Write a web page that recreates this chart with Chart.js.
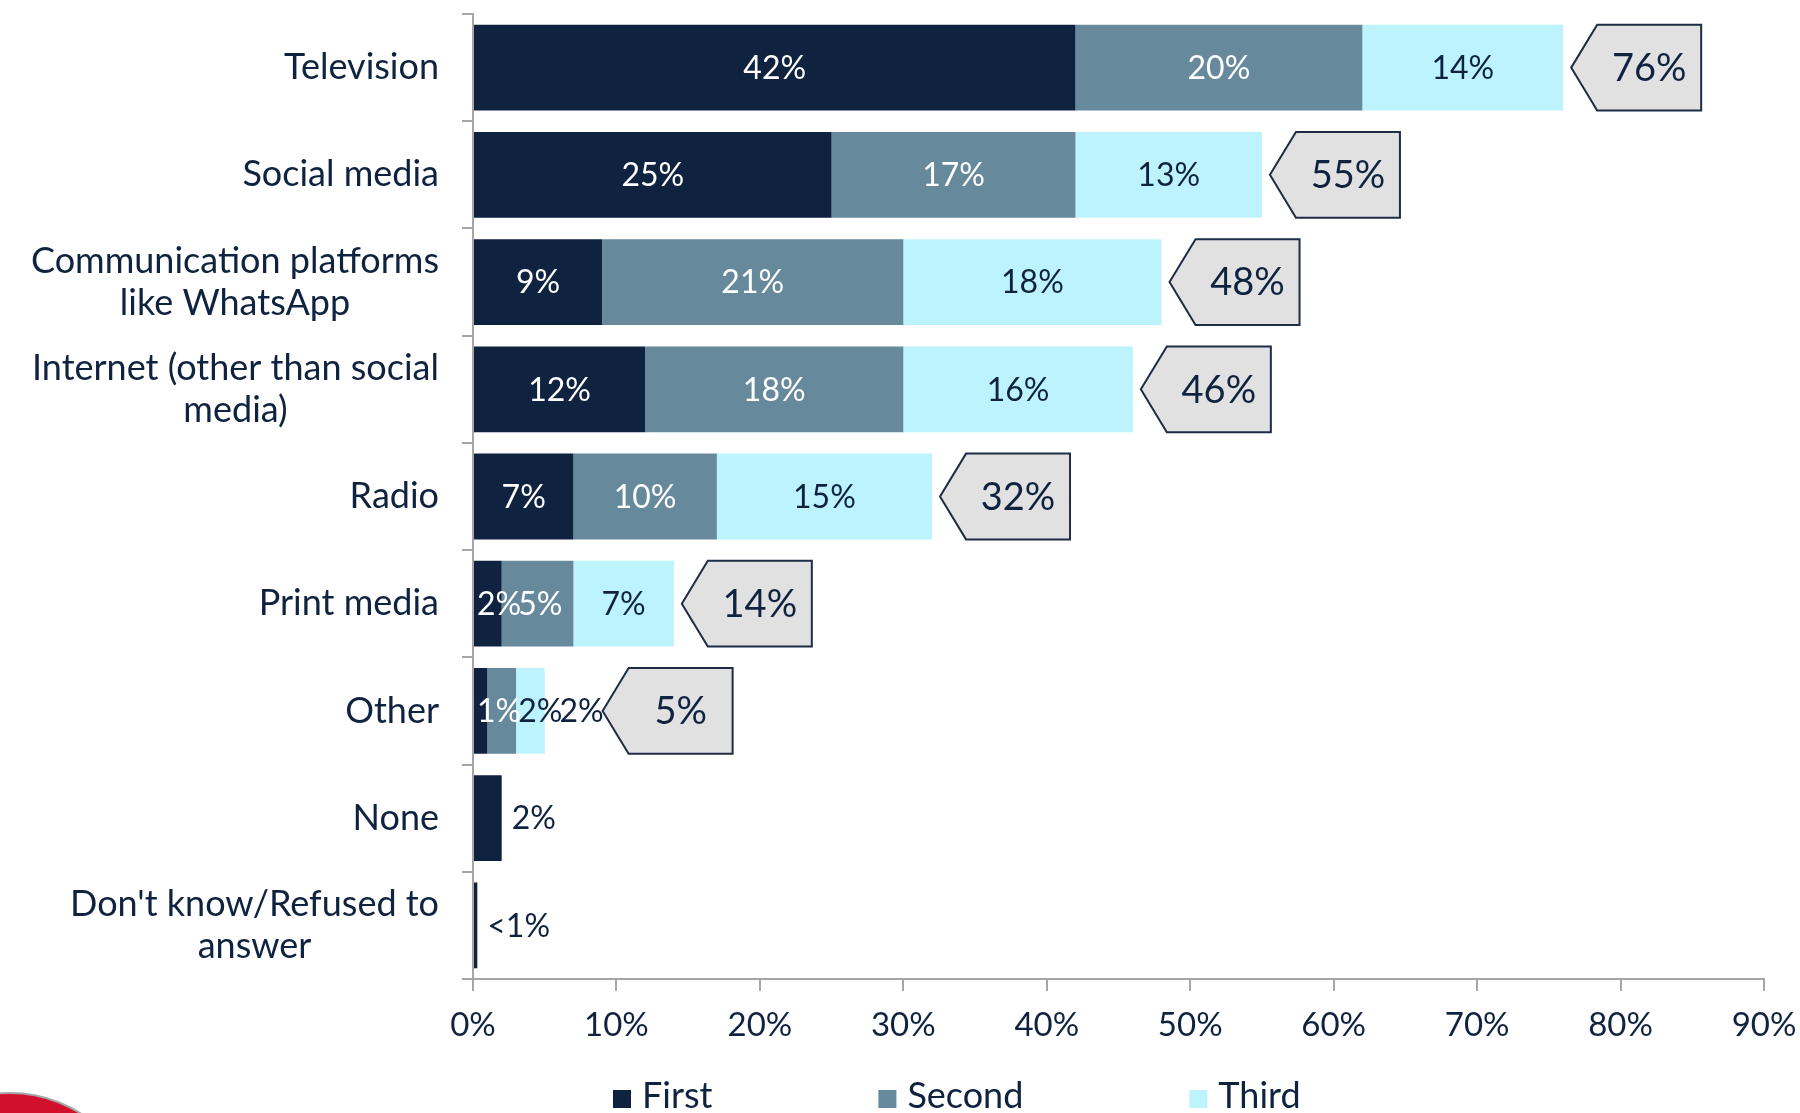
<!DOCTYPE html>
<html>
<head>
<meta charset="utf-8">
<script src="https://cdn.jsdelivr.net/npm/chart.js@4.4.1/dist/chart.umd.min.js"></script>
<style>
  html, body { margin: 0; padding: 0; background: #ffffff; }
  #wrap { width: 1800px; height: 1113px; position: relative; }
</style>
</head>
<body>
<div id="wrap"><canvas id="chart" width="1800" height="1113"></canvas></div>
<script>
// ---- data ----
const categories = [
  'Television',
  'Social media',
  ['Communication platforms', 'like WhatsApp'],
  ['Internet (other than social', 'media)'],
  'Radio',
  'Print media',
  'Other',
  'None',
  ["Don't know/Refused to", 'answer']
];
const seriesNames = ['First', 'Second', 'Third'];
const firstValues  = [42, 25,  9, 12,  7, 2, 1, 2, 0.3];
const secondValues = [20, 17, 21, 18, 10, 5, 2, null, null];
const thirdValues  = [14, 13, 18, 16, 15, 7, 2, null, null];
const totalValues  = [76, 55, 48, 46, 32, 14, 5, null, null];
const xTickValues  = [0, 10, 20, 30, 40, 50, 60, 70, 80, 90];

// ---- styling ----
const NAVY = '#0f2340';
const STEEL = '#66899c';
const CYAN = '#bdf3fc';
const AXIS_GREY = '#a6a6a6';
const FONT = 'Lato, "Open Sans", sans-serif';
const seriesColors = [NAVY, STEEL, CYAN];

function pct(v) {
  return v < 1 ? '<1%' : Math.round(v) + '%';
}

// Category names: each block is right-aligned against the axis, its lines centred within the block.
const categoryLabels = {
  id: 'categoryLabels',
  afterDraw(chart) {
    const ctx = chart.ctx;
    const ys = chart.scales.y;
    const blockRight = ys.right - 11 - 23;
    const lineGap = 42;
    ctx.save();
    ctx.font = '36px ' + FONT;
    ctx.fillStyle = NAVY;
    ctx.textAlign = 'center';
    ctx.textBaseline = 'middle';
    categories.forEach((label, i) => {
      const lines = Array.isArray(label) ? label : [label];
      const widest = Math.max(...lines.map(l => ctx.measureText(l).width));
      const cx = blockRight - widest / 2;
      const cy = ys.getPixelForTick(i);
      const y0 = cy - (lines.length - 1) * lineGap / 2;
      lines.forEach((l, j) => ctx.fillText(l, cx, y0 + j * lineGap));
    });
    ctx.restore();
  }
};

// Segment labels inside/next to each bar piece, plus the pointed total tags.
const barLabels = {
  id: 'barLabels',
  afterDatasetsDraw(chart) {
    const ctx = chart.ctx;
    const axisX = chart.scales.x.getPixelForValue(0);
    ctx.save();
    categories.forEach((_, i) => {
      const segs = [];
      chart.data.datasets.forEach((ds, k) => {
        const v = ds.data[i];
        if (v == null) return;
        const el = chart.getDatasetMeta(k).data[i];
        const p = el.getProps(['x', 'y', 'base', 'height'], true);
        segs.push({ v, k, p });
      });
      if (!segs.length) return;
      const single = segs.length === 1;
      const rowY = segs[0].p.y;
      const barH = segs[0].p.height;
      const barEnd = Math.max(...segs.map(s => Math.max(s.p.x, s.p.base)));
      // labels sitting over the First/Second pieces read in white
      const darkSegs = segs.filter(s => s.k < 2);
      const darkEnd = darkSegs.length ? Math.max(...darkSegs.map(s => s.p.x)) : axisX;

      ctx.font = '32px ' + FONT;
      ctx.textBaseline = 'middle';
      ctx.textAlign = 'left';
      let cursor = axisX + 4;
      segs.forEach(s => {
        const text = pct(s.v);
        const w = ctx.measureText(text).width;
        const left = Math.min(s.p.base, s.p.x);
        const right = Math.max(s.p.base, s.p.x);
        let lx = single ? right + 10 : (left + right) / 2 - w / 2;
        lx = Math.max(lx, cursor);
        const cx = lx + w / 2;
        ctx.fillStyle = (!single && cx < darkEnd) ? '#ffffff' : NAVY;
        ctx.fillText(text, lx, rowY + 1);
        cursor = lx + w - 3;
      });

      const total = totalValues[i];
      if (total == null) return;
      const tip = Math.max(barEnd + 8, cursor + 2);
      const top = rowY - barH / 2;
      const bottom = rowY + barH / 2;
      const notch = 26;
      const body = 104;
      ctx.beginPath();
      ctx.moveTo(tip, rowY);
      ctx.lineTo(tip + notch, top);
      ctx.lineTo(tip + notch + body, top);
      ctx.lineTo(tip + notch + body, bottom);
      ctx.lineTo(tip + notch, bottom);
      ctx.closePath();
      ctx.fillStyle = '#e1e1e1';
      ctx.fill();
      ctx.lineWidth = 2;
      ctx.strokeStyle = '#1c2d45';
      ctx.stroke();
      ctx.font = '38px ' + FONT;
      ctx.textAlign = 'center';
      ctx.fillStyle = NAVY;
      ctx.fillText(total + '%', tip + notch + body / 2, rowY + 1);
    });
    ctx.restore();
  }
};

// Legend row along the bottom and the corner emblem.
const footer = {
  id: 'footer',
  afterDraw(chart) {
    const ctx = chart.ctx;
    ctx.save();
    // corner emblem
    ctx.beginPath();
    ctx.arc(10, 1225, 132, 0, Math.PI * 2);
    ctx.fillStyle = '#d30f2e';
    ctx.fill();
    ctx.lineWidth = 2;
    ctx.strokeStyle = '#a6a6a6';
    ctx.stroke();

    // legend
    ctx.font = '36px ' + FONT;
    ctx.textBaseline = 'alphabetic';
    ctx.textAlign = 'left';
    let x = 613;
    chart.data.datasets.forEach(ds => {
      ctx.fillStyle = ds.backgroundColor;
      ctx.fillRect(x, 1090, 18, 18);
      ctx.fillStyle = NAVY;
      ctx.fillText(ds.label, x + 29, 1108);
      x += 29 + ctx.measureText(ds.label).width + 166;
    });
    ctx.restore();
  }
};

const valueSeries = [firstValues, secondValues, thirdValues];

new Chart(document.getElementById('chart'), {
  type: 'bar',
  data: {
    labels: categories,
    datasets: seriesNames.map((name, k) => ({
      label: name,
      data: valueSeries[k],
      backgroundColor: seriesColors[k],
      borderWidth: 0,
      barPercentage: 0.8,
      categoryPercentage: 1.0
    }))
  },
  options: {
    indexAxis: 'y',
    responsive: false,
    animation: false,
    devicePixelRatio: 1,
    layout: { padding: { top: 14, right: 36, bottom: 54, left: 0 } },
    plugins: {
      legend: { display: false },
      tooltip: { enabled: false }
    },
    scales: {
      x: {
        stacked: true,
        min: 0,
        max: 90,
        afterBuildTicks(scale) {
          scale.ticks = xTickValues.map(v => ({ value: v }));
        },
        afterFit(scale) {
          scale.height = 80;
          scale.paddingLeft = 0;
          scale.paddingRight = 0;
        },
        grid: {
          display: true,
          drawOnChartArea: false,
          drawTicks: true,
          tickLength: 12,
          color: AXIS_GREY,
          lineWidth: 2
        },
        border: { display: true, color: AXIS_GREY, width: 2 },
        ticks: {
          callback: v => v + '%',
          color: NAVY,
          font: { family: FONT, size: 33 },
          padding: 15,
          maxRotation: 0,
          autoSkip: false
        }
      },
      y: {
        stacked: true,
        afterFit(scale) {
          scale.width = 473;
          scale.paddingTop = 0;
          scale.paddingBottom = 0;
        },
        grid: {
          display: true,
          offset: true,
          drawOnChartArea: false,
          drawTicks: true,
          tickLength: 11,
          color: AXIS_GREY,
          lineWidth: 2
        },
        border: { display: true, color: AXIS_GREY, width: 2 },
        ticks: {
          display: false,
          autoSkip: false
        }
      }
    }
  },
  plugins: [barLabels, categoryLabels, footer]
});
</script>
</body>
</html>
